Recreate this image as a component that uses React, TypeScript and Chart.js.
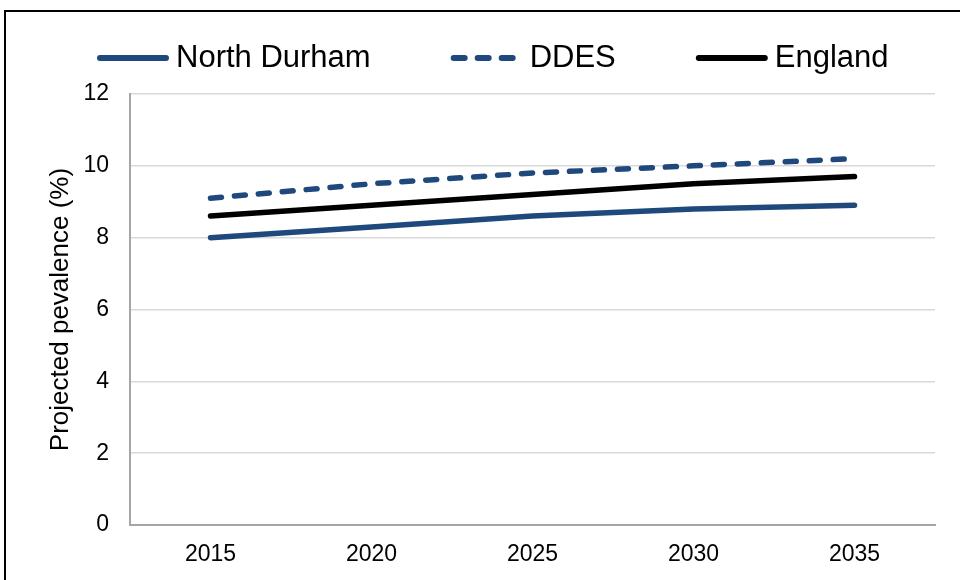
import React, { useEffect, useRef } from "react";
import { Chart, registerables } from "chart.js";

Chart.register(...registerables);

const years = ["2015", "2020", "2025", "2030", "2035"];
const northDurham = [8.0, 8.3, 8.6, 8.8, 8.9];
const ddes = [9.1, 9.5, 9.8, 10.0, 10.2];
const england = [8.6, 8.9, 9.2, 9.5, 9.7];
const seriesNames = ["North Durham", "DDES", "England"];
const yTitle = "Projected pevalence (%)";

const BLUE = "#1f497d";
const BLACK = "#000000";
const FONT = "'Liberation Sans', Arial, sans-serif";
const LINE_WIDTH = 5.5;

// Outer frame and white page behind the chart
const framePlugin = {
  id: "frame",
  beforeDraw(chart: any) {
    const { ctx, width, height } = chart;
    ctx.save();
    ctx.fillStyle = "#ffffff";
    ctx.fillRect(0, 0, width, height);
    ctx.strokeStyle = "#000000";
    ctx.lineWidth = 2;
    ctx.strokeRect(5, 11, width + 100, height + 100);
    ctx.restore();
  },
};

// Legend row above the plot: a line sample followed by the series name
const legendPlugin = {
  id: "lineLegend",
  afterDraw(chart: any) {
    const { ctx } = chart;
    const y = 58;
    const lineLen = 66;
    const cap = 3;
    const gap = 7;
    const spacing = 80;
    let x = 97;
    ctx.save();
    ctx.font = `31px ${FONT}`;
    ctx.textBaseline = "middle";
    ctx.textAlign = "left";
    chart.data.datasets.forEach((ds: any) => {
      ctx.beginPath();
      ctx.strokeStyle = ds.borderColor;
      ctx.lineWidth = 6;
      ctx.lineCap = "round";
      ctx.setLineDash(ds.borderDash || []);
      ctx.moveTo(x + cap, y);
      ctx.lineTo(x + cap + lineLen, y);
      ctx.stroke();
      ctx.setLineDash([]);
      const tx = x + cap * 2 + lineLen + gap;
      ctx.fillStyle = "#000000";
      ctx.fillText(ds.label, tx, y);
      x = tx + ctx.measureText(ds.label).width + spacing;
    });
    ctx.restore();
  },
};

export default function App() {
  const canvasRef = useRef<HTMLCanvasElement | null>(null);

  useEffect(() => {
    if (!canvasRef.current) return;
    const chart = new Chart(canvasRef.current, {
      type: "line",
      data: {
        labels: years,
        datasets: [
          {
            label: seriesNames[0],
            data: northDurham,
            borderColor: BLUE,
            backgroundColor: BLUE,
            borderWidth: LINE_WIDTH,
            borderCapStyle: "round",
            pointRadius: 0,
            tension: 0,
          },
          {
            label: seriesNames[1],
            data: ddes,
            borderColor: BLUE,
            backgroundColor: BLUE,
            borderWidth: LINE_WIDTH,
            borderDash: [11, 13],
            borderCapStyle: "round",
            pointRadius: 0,
            tension: 0,
          },
          {
            label: seriesNames[2],
            data: england,
            borderColor: BLACK,
            backgroundColor: BLACK,
            borderWidth: LINE_WIDTH,
            borderCapStyle: "round",
            pointRadius: 0,
            tension: 0,
          },
        ],
      },
      options: {
        responsive: false,
        animation: false,
        layout: { padding: { top: 94, right: 25, left: 0, bottom: 0 } },
        plugins: {
          legend: { display: false },
          tooltip: { enabled: false },
        },
        scales: {
          x: {
            type: "category",
            offset: true,
            grid: { display: false, drawTicks: false },
            border: { display: true, color: "#a6a6a6", width: 2 },
            ticks: {
              color: "#000000",
              font: { family: FONT, size: 23 },
              padding: 16,
              maxRotation: 0,
            },
            afterFit(scale: any) {
              scale.height = 55;
            },
          },
          y: {
            min: 0,
            max: 12,
            ticks: {
              stepSize: 2,
              color: "#000000",
              font: { family: FONT, size: 23 },
              padding: 21,
            },
            grid: { color: "#d9d9d9", lineWidth: 1.5, drawTicks: false },
            border: { display: true, color: "#a6a6a6", width: 2 },
            title: {
              display: true,
              text: yTitle,
              color: "#000000",
              font: { family: FONT, size: 26 },
              padding: { top: 45, bottom: 0 },
            },
            afterFit(scale: any) {
              scale.width = 130;
            },
          },
        },
      },
      plugins: [framePlugin, legendPlugin],
    });
    return () => chart.destroy();
  }, []);

  return (
    <div style={{ position: "absolute", left: 0, top: 0, width: 960, height: 580 }}>
      <canvas ref={canvasRef} width={960} height={580} />
    </div>
  );
}
